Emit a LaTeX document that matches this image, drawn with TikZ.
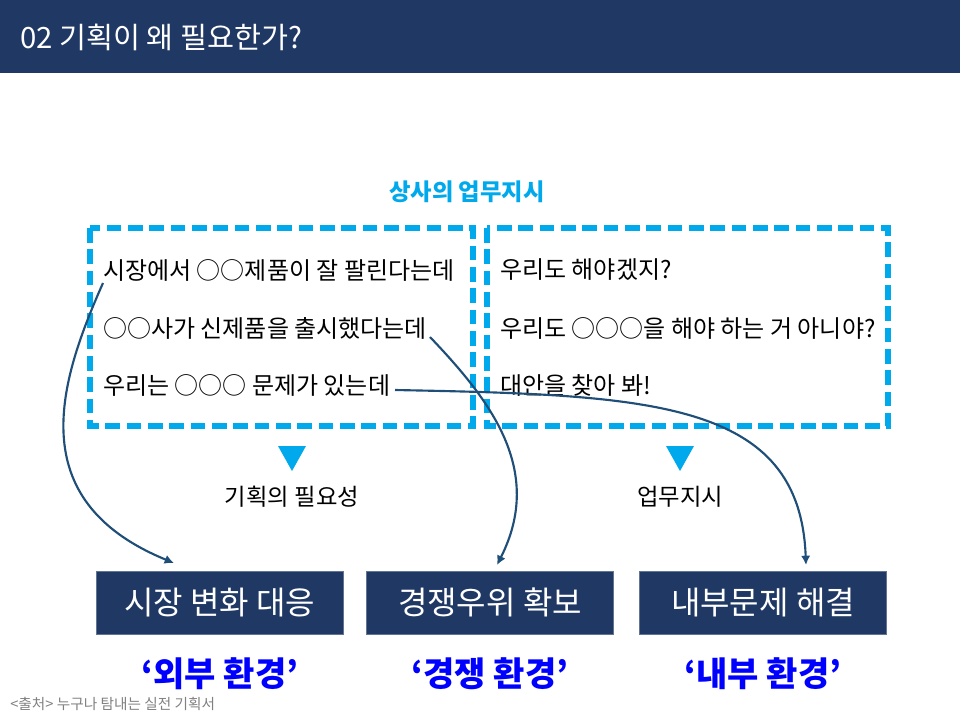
\documentclass[tikz,border=0pt]{standalone}
\usepackage{fontspec}
\setmainfont{Noto Sans CJK KR}
\usetikzlibrary{positioning}
\usetikzlibrary{shapes.geometric}
\usetikzlibrary{arrows.meta}
\definecolor{navy}{HTML}{203864}
\definecolor{sky}{HTML}{00A9EC}
\definecolor{arrowblue}{HTML}{1F4E79}

\tikzset{
    linetext/.style={anchor=west, font=\fontsize{18}{18}\selectfont, inner sep=0pt},
    goalbox/.style={fill=navy, draw=navy!70!white, minimum width=185pt, minimum height=47pt, text=white, font=\fontsize{24}{24}\selectfont},
    envtext/.style={text=blue, font=\bfseries\fontsize{25.5}{25.5}\selectfont},
    curvearrow/.style={draw=arrowblue, line width=1.6pt, -{Latex[length=7pt,width=7pt]}}
}

\begin{document}
\begin{tikzpicture}[x=0.75pt, y=-0.75pt]
            \useasboundingbox (0,0) rectangle (960,722);
            
            % Header
            \fill[navy] (0,0) rectangle (960,73);
            \node[anchor=west, text=white, font=\fontsize{22}{22}\selectfont, inner sep=0pt] (title) at (20,37) {02 기획이 왜 필요한가?};
            
            % Heading
            \node[text=sky, font=\bfseries\fontsize{17.5}{17.5}\selectfont] (boss) at (467,192) {상사의 업무지시};
            
            % Dashed boxes
            \draw[sky, line width=3.8pt, dash pattern=on 11pt off 5pt] (90,228) rectangle (473,426);
            \draw[sky, line width=3.8pt, dash pattern=on 11pt off 5pt] (487,228) rectangle (888,426);
            
            % Left lines
            \node[linetext] (l1) at (103,270) {시장에서 ○○제품이 잘 팔린다는데};
            \node[linetext] (l2) at (103,328) {○○사가 신제품을 출시했다는데};
            \node[linetext] (l3) at (103,385) {우리는 ○○○ 문제가 있는데};
            
            % Right lines
            \node[linetext] (r1) at (500,270) {우리도 해야겠지?};
            \node[linetext] (r2) at (500,328) {우리도 ○○○을 해야 하는 거 아니야?};
            \node[linetext] (r3) at (500,385) {대안을 찾아 봐!};
            
            % Triangles
            \fill[sky] (278,446) -- (306,446) -- (292,471) -- cycle;
            \fill[sky] (666,446) -- (694,446) -- (680,471) -- cycle;
            \node[font=\fontsize{17.5}{17.5}\selectfont] (need) at (292,497) {기획의 필요성};
            \node[font=\fontsize{17.5}{17.5}\selectfont] (order) at (680,497) {업무지시};
            
            % Goal boxes
            \node[goalbox] (market) at (219.5,602.5) {시장 변화 대응};
            \node[goalbox] (compete) at (490,602.5) {경쟁우위 확보};
            \node[goalbox] (inner) at (763,602.5) {내부문제 해결};
            
            % Environment labels
            \node[envtext] (outside) at (220,674) {‘외부 환경’};
            \node[envtext] (rival) at (490,674) {‘경쟁 환경’};
            \node[envtext] (inside) at (763,674) {‘내부 환경’};
            
            % Source
            \node[anchor=west, text=gray, font=\fontsize{11}{11}\selectfont, inner sep=0pt] (source) at (10,704) {<출처> 누구나 탐내는 실전 기획서};
            
            % Arrows
            \coordinate (s1) at (103,283);
            \coordinate (s2) at (430,337);
            \coordinate (s3) at (395,390);
            \draw[curvearrow] (s1) .. controls (60,380) and (20,500) .. (174,563);
            \draw[curvearrow] (s2) .. controls (490,400) and (545,470) .. (497,565);
            \draw[curvearrow] (s3) .. controls (650,395) and (800,400) .. (806,565);
            
        \end{tikzpicture}
\end{document}
